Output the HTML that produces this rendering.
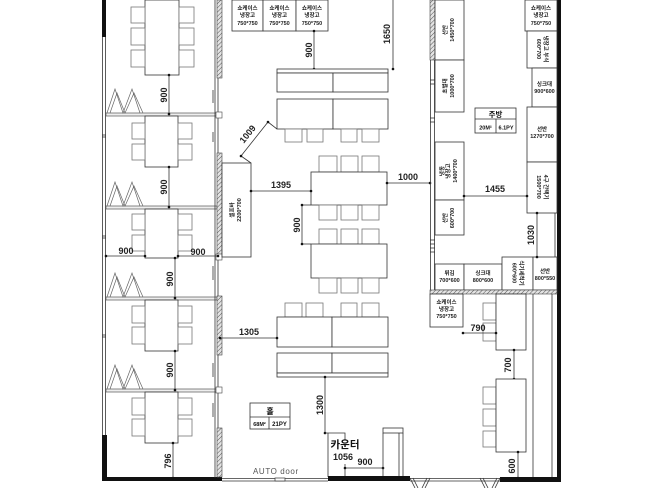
<!DOCTYPE html>
<html><head><meta charset="utf-8">
<style>
html,body{margin:0;padding:0;background:#fff;}
svg{display:block;}
text{font-family:"Liberation Sans","Noto Sans CJK KR",sans-serif;}
.f{fill:#fff;stroke:#333;stroke-width:0.8;}
.c{fill:#fff;stroke:#777;stroke-width:0.8;}
.l{stroke:#333;stroke-width:0.8;fill:none;}
.dm{font-size:9px;font-weight:bold;fill:#222;}
.sm{font-size:5.5px;font-weight:bold;fill:#222;}
</style></head><body>
<svg width="652" height="488" viewBox="0 0 652 488" xmlns="http://www.w3.org/2000/svg">
<defs>
<pattern id="h" width="3" height="3" patternUnits="userSpaceOnUse" patternTransform="rotate(45)">
<rect width="3" height="3" fill="#e4e4e4"/>
<line x1="0" y1="0" x2="0" y2="3" stroke="#555" stroke-width="1"/>
</pattern>
</defs>

<!-- LEFT OUTER WALL -->
<rect x="102" y="0" width="4" height="37" fill="#111"/>
<line x1="102.5" y1="37" x2="102.5" y2="435" class="l"/>
<line x1="105.5" y1="37" x2="105.5" y2="435" class="l"/>
<g class="l"><line x1="102" y1="135" x2="106" y2="135"/><line x1="102" y1="137" x2="106" y2="137"/>
<line x1="102" y1="236" x2="106" y2="236"/><line x1="102" y1="238" x2="106" y2="238"/>
<line x1="102" y1="335" x2="106" y2="335"/><line x1="102" y1="337" x2="106" y2="337"/></g>
<rect x="102" y="435" width="5" height="46" fill="#111"/>
<rect x="102" y="477" width="120" height="4" fill="#111"/>

<!-- AUTO door -->
<line x1="222" y1="478.5" x2="328" y2="478.5" class="l"/>
<line x1="222" y1="481" x2="328" y2="481" class="l"/>
<rect x="275" y="478" width="10" height="3" fill="#fff" stroke="#333" stroke-width="0.7"/>
<text x="253" y="474" font-size="8" fill="#555" letter-spacing="0.6">AUTO  door</text>

<!-- booth partitions -->
<g fill="#eee" stroke="#555" stroke-width="0.7">
<rect x="106" y="113" width="111" height="3"/>
<rect x="106" y="206" width="111" height="3"/>
<rect x="106" y="297" width="111" height="3"/>
<rect x="106" y="389" width="111" height="3"/>
</g>

<!-- right partition of booths -->
<line x1="215" y1="0" x2="215" y2="478" class="l"/>
<line x1="218" y1="0" x2="218" y2="478" class="l"/>
<g fill="url(#h)" stroke="#444" stroke-width="0.6">
<rect x="217" y="0" width="5" height="78"/>
<rect x="217" y="153" width="5" height="103"/>
<rect x="217" y="296" width="5" height="59"/>
<rect x="217" y="428" width="5" height="49"/>
</g>
<g fill="#fff" stroke="#444" stroke-width="0.6">
<rect x="216" y="112" width="6" height="6"/>
<rect x="216" y="254" width="6" height="6"/>
<rect x="216" y="387" width="6" height="6"/>
</g>
<g class="l" stroke-width="0.6">
<line x1="213" y1="90" x2="213" y2="103"/><line x1="213" y1="132" x2="213" y2="142"/>
<line x1="213" y1="266" x2="213" y2="280"/><line x1="213" y1="363" x2="213" y2="377"/>
<line x1="213" y1="403" x2="213" y2="417"/>
</g>

<!-- zigzags -->
<g fill="none" stroke="#666" stroke-width="0.7">
<polyline points="107,113 115,89 123,113 132,89 140,113"/>
<polyline points="110,113 117,93 125,113 134,93 143,113"/>
<polyline points="107,206 115,182 123,206 132,182 140,206"/>
<polyline points="110,206 117,186 125,206 134,186 143,206"/>
<polyline points="107,297 115,273 123,297 132,273 140,297"/>
<polyline points="110,297 117,277 125,297 134,277 143,297"/>
<polyline points="107,389 115,365 123,389 132,365 140,389"/>
<polyline points="110,389 117,369 125,389 134,369 143,389"/>
</g>

<!-- booth tables & chairs -->
<rect x="145" y="0" width="34" height="75" class="f"/>
<rect x="131" y="7" width="14" height="16" class="c"/><rect x="131" y="28" width="14" height="17" class="c"/><rect x="131" y="50" width="14" height="17" class="c"/>
<rect x="179" y="7" width="15" height="16" class="c"/><rect x="179" y="28" width="15" height="17" class="c"/><rect x="179" y="50" width="15" height="17" class="c"/>

<rect x="145" y="116" width="33" height="51" class="f"/>
<rect x="132" y="123" width="13" height="16" class="c"/><rect x="132" y="144" width="13" height="16" class="c"/>
<rect x="178" y="123" width="14" height="16" class="c"/><rect x="178" y="144" width="14" height="16" class="c"/>

<rect x="145" y="209" width="33" height="49" class="f"/>
<rect x="132" y="214" width="13" height="16" class="c"/><rect x="132" y="235" width="13" height="16" class="c"/>
<rect x="178" y="214" width="14" height="16" class="c"/><rect x="178" y="235" width="14" height="16" class="c"/>

<rect x="145" y="300" width="33" height="51" class="f"/>
<rect x="132" y="306" width="13" height="17" class="c"/><rect x="132" y="327" width="13" height="17" class="c"/>
<rect x="178" y="306" width="14" height="17" class="c"/><rect x="178" y="327" width="14" height="17" class="c"/>

<rect x="145" y="392" width="33" height="51" class="f"/>
<rect x="132" y="398" width="13" height="17" class="c"/><rect x="132" y="419" width="13" height="17" class="c"/>
<rect x="178" y="398" width="14" height="17" class="c"/><rect x="178" y="419" width="14" height="17" class="c"/>

<!-- booth dims -->
<g class="l">
<line x1="169" y1="75" x2="169" y2="114"/>
<line x1="169" y1="167" x2="169" y2="207"/>
<line x1="106" y1="256" x2="145" y2="256"/>
<line x1="178" y1="256" x2="218" y2="256"/>
<line x1="175" y1="258" x2="175" y2="298"/>
<line x1="175" y1="351" x2="175" y2="390"/>
<line x1="173" y1="443" x2="173" y2="478"/>
</g>
<g fill="#111">
<circle cx="169" cy="75" r="1.3"/><circle cx="169" cy="114" r="1.3"/>
<circle cx="169" cy="167" r="1.3"/><circle cx="169" cy="207" r="1.3"/>
<circle cx="106" cy="256" r="1.3"/><circle cx="145" cy="256" r="1.3"/>
<circle cx="178" cy="256" r="1.3"/><circle cx="218" cy="256" r="1.3"/>
<circle cx="175" cy="258" r="1.3"/><circle cx="175" cy="298" r="1.3"/>
<circle cx="175" cy="351" r="1.3"/><circle cx="175" cy="390" r="1.3"/>
<circle cx="173" cy="443" r="1.3"/><circle cx="173" cy="478" r="1.3"/>
</g>
<g class="dm" text-anchor="middle" font-size="8.5">
<text transform="translate(164,95) rotate(-90)" dominant-baseline="central">900</text>
<text transform="translate(164,187) rotate(-90)" dominant-baseline="central">900</text>
<text x="126" y="254">900</text>
<text x="198" y="255">900</text>
<text transform="translate(170,279) rotate(-90)" dominant-baseline="central">900</text>
<text transform="translate(170,370) rotate(-90)" dominant-baseline="central">900</text>
<text transform="translate(168,461) rotate(-90)" dominant-baseline="central">796</text>
</g>

<!-- self bar -->
<rect x="222" y="163" width="29" height="94" class="f"/>
<text class="sm" text-anchor="middle" transform="translate(236,210) rotate(-90)"><tspan x="0" y="-2">셀프바</tspan><tspan x="0" y="5">2200*700</tspan></text>
<line x1="241" y1="156" x2="268" y2="122" class="l"/>
<line x1="241" y1="156" x2="251" y2="163" class="l"/>
<line x1="268" y1="122" x2="277" y2="129" class="l"/>
<circle cx="241" cy="156" r="1.3" fill="#111"/><circle cx="268" cy="122" r="1.3" fill="#111"/>
<text class="dm" text-anchor="middle" transform="translate(250,136) rotate(-51.5)">1009</text>

<!-- top showcase fridges -->
<rect x="232" y="0" width="31" height="31" class="f"/>
<rect x="263" y="0" width="33" height="31" class="f"/>
<rect x="296" y="0" width="32" height="31" class="f"/>
<g class="sm" text-anchor="middle">
<text x="247.5" y="10">쇼케이스</text><text x="247.5" y="17">냉장고</text><text x="247.5" y="25">750*750</text>
<text x="279.5" y="10">쇼케이스</text><text x="279.5" y="17">냉장고</text><text x="279.5" y="25">750*750</text>
<text x="312" y="10">쇼케이스</text><text x="312" y="17">냉장고</text><text x="312" y="25">750*750</text>
</g>

<!-- top dims -->
<line x1="314" y1="31" x2="314" y2="69" class="l"/>
<circle cx="314" cy="31" r="1.3" fill="#111"/><circle cx="314" cy="69" r="1.3" fill="#111"/>
<text class="dm" text-anchor="middle" transform="translate(309,50) rotate(-90)" dominant-baseline="central">900</text>
<line x1="393" y1="0" x2="393" y2="69" class="l"/>
<circle cx="393" cy="69" r="1.3" fill="#111"/>
<text class="dm" text-anchor="middle" transform="translate(387,34) rotate(-90)" dominant-baseline="central">1650</text>

<!-- top bar counter -->
<rect x="277" y="69" width="111" height="4" class="f"/>
<rect x="277" y="73" width="56" height="19" class="f"/>
<rect x="333" y="73" width="55" height="19" class="f"/>
<rect x="277" y="99" width="56" height="30" class="f"/>
<rect x="333" y="99" width="55" height="30" class="f"/>
<rect x="285" y="129" width="17" height="13" class="c"/><rect x="307" y="129" width="16" height="13" class="c"/>
<rect x="341" y="129" width="16" height="13" class="c"/><rect x="362" y="129" width="17" height="13" class="c"/>

<!-- center table 1 -->
<rect x="319" y="156" width="18" height="16" class="c"/><rect x="341" y="156" width="17" height="16" class="c"/><rect x="362" y="156" width="17" height="16" class="c"/>
<rect x="311" y="172" width="76" height="33" class="f"/>
<rect x="319" y="205" width="18" height="15" class="c"/><rect x="341" y="205" width="17" height="15" class="c"/><rect x="362" y="205" width="17" height="15" class="c"/>
<!-- center table 2 -->
<rect x="319" y="229" width="18" height="15" class="c"/><rect x="341" y="229" width="17" height="15" class="c"/><rect x="362" y="229" width="17" height="15" class="c"/>
<rect x="311" y="244" width="76" height="34" class="f"/>
<rect x="319" y="278" width="18" height="15" class="c"/><rect x="341" y="278" width="17" height="15" class="c"/><rect x="362" y="278" width="17" height="15" class="c"/>

<!-- center dims -->
<g class="l">
<line x1="251" y1="191" x2="311" y2="191"/>
<line x1="387" y1="183" x2="430" y2="183"/>
<line x1="302" y1="205" x2="302" y2="244"/>
<line x1="302" y1="205" x2="311" y2="205"/>
<line x1="302" y1="244" x2="311" y2="244"/>
</g>
<g fill="#111">
<circle cx="251" cy="191" r="1.3"/><circle cx="311" cy="191" r="1.3"/>
<circle cx="387" cy="183" r="1.3"/><circle cx="430" cy="183" r="1.3"/>
<circle cx="302" cy="205" r="1.3"/><circle cx="302" cy="244" r="1.3"/>
</g>
<text class="dm" x="281" y="188" text-anchor="middle">1395</text>
<text class="dm" x="408" y="180" text-anchor="middle">1000</text>
<text class="dm" text-anchor="middle" transform="translate(297,225) rotate(-90)" dominant-baseline="central">900</text>

<!-- bottom center tables -->
<rect x="285" y="303" width="17" height="14" class="c"/><rect x="306" y="303" width="17" height="14" class="c"/>
<rect x="341" y="303" width="16" height="14" class="c"/><rect x="362" y="303" width="17" height="14" class="c"/>
<rect x="277" y="317" width="55" height="30" class="f"/>
<rect x="332" y="317" width="56" height="30" class="f"/>
<rect x="277" y="353" width="55" height="20" class="f"/>
<rect x="332" y="353" width="56" height="20" class="f"/>
<rect x="277" y="373" width="111" height="4" class="f"/>
<line x1="220" y1="338" x2="277" y2="338" class="l"/>
<circle cx="220" cy="338" r="1.3" fill="#111"/><circle cx="277" cy="338" r="1.3" fill="#111"/>
<text class="dm" x="249" y="335" text-anchor="middle">1305</text>
<line x1="325" y1="377" x2="325" y2="433" class="l"/>
<circle cx="325" cy="377" r="1.3" fill="#111"/><circle cx="325" cy="433" r="1.3" fill="#111"/>
<text class="dm" text-anchor="middle" transform="translate(320,405) rotate(-90)" dominant-baseline="central">1300</text>

<!-- hall label -->
<rect x="250" y="403" width="40" height="26" class="f"/>
<line x1="250" y1="417" x2="290" y2="417" class="l"/>
<line x1="269" y1="417" x2="269" y2="429" class="l"/>
<text x="270" y="414" font-size="8" font-weight="bold" text-anchor="middle" fill="#111">홀</text>
<text x="259.5" y="426" font-size="5.5" font-weight="bold" text-anchor="middle" fill="#111">68M²</text>
<text x="279.5" y="426" font-size="6" font-weight="bold" text-anchor="middle" fill="#111">21PY</text>

<!-- counter -->
<polyline points="325,433 345,433 345,440" class="l"/>
<line x1="328" y1="433" x2="328" y2="477" class="l"/>
<line x1="345" y1="464" x2="345" y2="477" class="l"/>
<line x1="345" y1="468" x2="383" y2="468" class="l"/>
<circle cx="345" cy="468" r="1.3" fill="#111"/><circle cx="383" cy="468" r="1.3" fill="#111"/>
<text x="345" y="448" font-size="10.5" font-weight="bold" text-anchor="middle" fill="#111">카운터</text>
<text class="dm" x="343" y="460" text-anchor="middle" font-size="9.5">1056</text>
<text class="dm" x="365" y="465" text-anchor="middle">900</text>
<rect x="383" y="428" width="20" height="5" class="f"/>
<line x1="383" y1="433" x2="383" y2="477" class="l"/>
<line x1="403" y1="433" x2="403" y2="477" class="l"/>
<line x1="399" y1="433" x2="399" y2="477" class="l"/>

<!-- bottom walls & doors -->
<rect x="328" y="476" width="82" height="5" fill="#111"/>
<line x1="410" y1="478.5" x2="500" y2="478.5" class="l"/>
<line x1="410" y1="481" x2="500" y2="481" class="l"/>
<rect x="500" y="477" width="61" height="5" fill="#111"/>
<g class="l" stroke-width="0.7">
<line x1="410" y1="478" x2="415" y2="488"/><line x1="413" y1="478" x2="418" y2="488"/>
<line x1="430" y1="478" x2="425" y2="488"/><line x1="427" y1="478" x2="422" y2="488"/>
<line x1="480" y1="478" x2="485" y2="488"/><line x1="483" y1="478" x2="488" y2="488"/>
<line x1="500" y1="478" x2="495" y2="488"/><line x1="497" y1="478" x2="492" y2="488"/>
</g>

<!-- kitchen left wall -->
<rect x="430" y="0" width="5" height="60" fill="url(#h)" stroke="#444" stroke-width="0.6"/>
<line x1="430.5" y1="60" x2="430.5" y2="290" class="l"/>
<line x1="434.5" y1="60" x2="434.5" y2="290" class="l"/>
<g class="l" stroke-width="0.6">
<line x1="430" y1="80" x2="435" y2="80"/><line x1="430" y1="84" x2="435" y2="84"/>
<line x1="430" y1="118" x2="435" y2="118"/><line x1="430" y1="122" x2="435" y2="122"/>
<line x1="430" y1="240" x2="435" y2="240"/><line x1="430" y1="244" x2="435" y2="244"/>
<line x1="430" y1="248" x2="435" y2="248"/><line x1="430" y1="252" x2="435" y2="252"/>
</g>

<!-- kitchen right wall -->
<rect x="557" y="0" width="4" height="482" fill="#111"/>
<line x1="555" y1="0" x2="555" y2="290" class="l" stroke-width="0.6"/>

<!-- kitchen boxes -->
<rect x="435" y="0" width="29" height="60" class="f"/>
<rect x="435" y="60" width="29" height="52" class="f"/>
<rect x="435" y="142" width="29" height="58" class="f"/>
<rect x="435" y="200" width="29" height="35" class="f"/>
<rect x="435" y="264" width="29" height="26" class="f"/>
<rect x="464" y="264" width="38" height="26" class="f"/>
<rect x="502" y="257" width="31" height="33" class="f"/>
<rect x="533" y="257" width="24" height="33" class="f"/>
<rect x="525" y="0" width="32" height="31" class="f"/>
<rect x="527" y="31" width="30" height="37" class="f"/>
<rect x="532" y="68" width="25" height="39" class="f"/>
<rect x="527" y="107" width="30" height="55" class="f"/>
<rect x="527" y="162" width="30" height="51" class="f"/>
<g class="sm" text-anchor="middle">
<text transform="translate(449,30) rotate(-90)"><tspan x="0" y="-2">선반</tspan><tspan x="0" y="5">1450*700</tspan></text>
<text transform="translate(449,86) rotate(-90)"><tspan x="0" y="-2">초벌대</tspan><tspan x="0" y="5">1000*700</tspan></text>
<text transform="translate(449,171) rotate(-90)"><tspan x="0" y="-5">냉동</tspan><tspan x="0" y="1">냉장고</tspan><tspan x="0" y="8">1400*700</tspan></text>
<text transform="translate(449,218) rotate(-90)"><tspan x="0" y="-2">선반</tspan><tspan x="0" y="5">600*700</tspan></text>
<text x="449.5" y="275">튀김</text><text x="449.5" y="282">700*600</text>
<text x="483" y="275">싱크대</text><text x="483" y="282">800*600</text>
<text transform="translate(517.5,273) rotate(90)"><tspan x="0" y="-2">식기세척기</tspan><tspan x="0" y="5">600*600</tspan></text>
<text x="545" y="273">선반</text><text x="545" y="280">800*550</text>
<text x="541" y="10">쇼케이스</text><text x="541" y="17">냉장고</text><text x="541" y="25">750*750</text>
<text transform="translate(542,49) rotate(90)"><tspan x="0" y="-2">냉장고 부식</tspan><tspan x="0" y="5">600*700</tspan></text>
<text x="544.5" y="86">싱크대</text><text x="544.5" y="93">900*600</text>
<text x="542" y="131">선반</text><text x="542" y="138">1270*700</text>
<text transform="translate(542,187) rotate(90)"><tspan x="0" y="-2">4구 간택기</tspan><tspan x="0" y="5">1500*700</tspan></text>
</g>

<!-- kitchen label -->
<rect x="475" y="108" width="41" height="25" class="f"/>
<line x1="475" y1="119" x2="516" y2="119" class="l"/>
<line x1="496" y1="119" x2="496" y2="133" class="l"/>
<text x="495.5" y="117" font-size="7.5" font-weight="bold" text-anchor="middle" fill="#111">주방</text>
<text x="485.5" y="129.5" font-size="5.5" font-weight="bold" text-anchor="middle" fill="#111">20M²</text>
<text x="506" y="129.5" font-size="5.5" font-weight="bold" text-anchor="middle" fill="#111">6.1PY</text>

<!-- kitchen dims -->
<line x1="464" y1="196" x2="527" y2="196" class="l"/>
<circle cx="464" cy="196" r="1.3" fill="#111"/><circle cx="527" cy="196" r="1.3" fill="#111"/>
<text class="dm" x="495" y="192" text-anchor="middle">1455</text>
<line x1="537" y1="213" x2="537" y2="257" class="l"/>
<circle cx="537" cy="213" r="1.3" fill="#111"/><circle cx="537" cy="257" r="1.3" fill="#111"/>
<text class="dm" text-anchor="middle" transform="translate(531,235) rotate(-90)" dominant-baseline="central">1030</text>

<!-- kitchen bottom hatched wall -->
<rect x="430" y="290" width="127" height="4" fill="url(#h)" stroke="#444" stroke-width="0.6"/>

<!-- bottom right area -->
<line x1="533" y1="294" x2="533" y2="477" class="l"/>
<line x1="552" y1="294" x2="552" y2="477" class="l"/>
<rect x="430" y="294" width="33" height="33" class="f"/>
<g class="sm" text-anchor="middle">
<text x="446.5" y="304">쇼케이스</text><text x="446.5" y="311">냉장고</text><text x="446.5" y="318">750*750</text>
</g>
<rect x="483" y="303" width="13" height="17" class="c"/><rect x="483" y="323" width="13" height="18" class="c"/>
<rect x="496" y="294" width="30" height="56" class="f"/>
<line x1="463" y1="333" x2="496" y2="333" class="l"/>
<circle cx="463" cy="333" r="1.3" fill="#111"/><circle cx="496" cy="333" r="1.3" fill="#111"/>
<text class="dm" x="478" y="331" text-anchor="middle">790</text>
<line x1="514" y1="350" x2="514" y2="379" class="l"/>
<circle cx="514" cy="350" r="1.3" fill="#111"/><circle cx="514" cy="379" r="1.3" fill="#111"/>
<text class="dm" text-anchor="middle" transform="translate(508,365) rotate(-90)" dominant-baseline="central">700</text>
<rect x="483" y="387" width="13" height="17" class="c"/><rect x="483" y="409" width="13" height="17" class="c"/><rect x="483" y="431" width="13" height="16" class="c"/>
<rect x="496" y="379" width="30" height="73" class="f"/>
<line x1="518" y1="452" x2="518" y2="478" class="l"/>
<circle cx="518" cy="452" r="1.3" fill="#111"/><circle cx="518" cy="478" r="1.3" fill="#111"/>
<text class="dm" text-anchor="middle" transform="translate(512,466) rotate(-90)" dominant-baseline="central">600</text>

</svg>
</body></html>
